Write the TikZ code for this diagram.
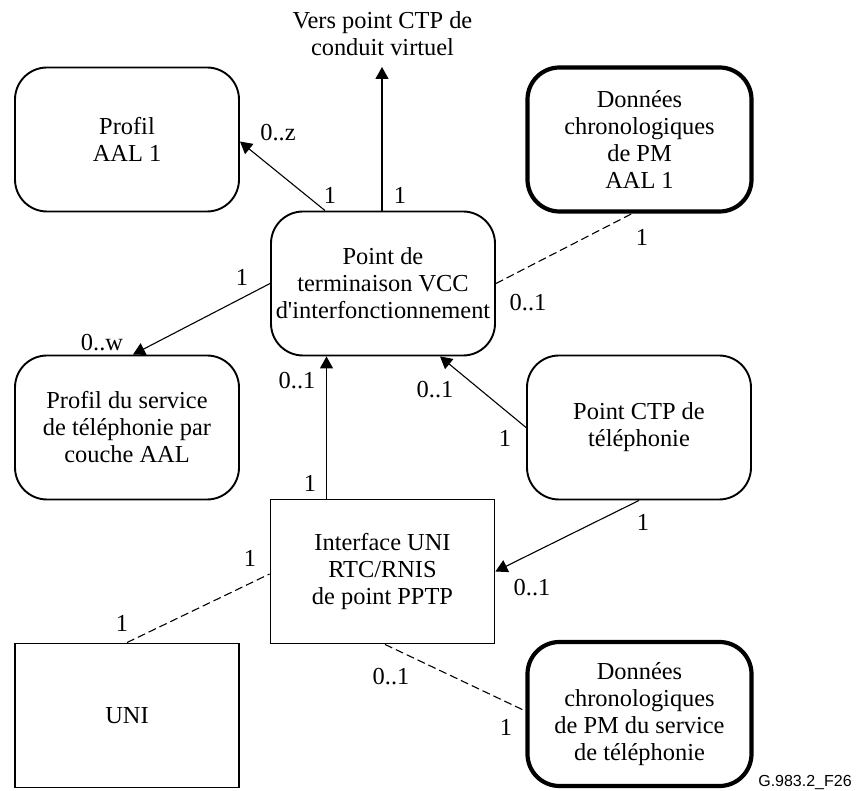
\documentclass[tikz,border=0pt]{standalone}
\usepackage{fontspec}
\newfontfamily\figserif{Liberation Serif}
\newfontfamily\figsans{Liberation Sans}
\usetikzlibrary{arrows.meta,calc}
\begin{document}
\begin{tikzpicture}[x=0.5pt,y=-0.5pt,
  font=\figserif\fontsize{12.2}{13.5}\selectfont,
  obj/.style={draw, line width=0.95pt, minimum width=112pt, minimum height=72pt,
              align=center, inner sep=0pt},
  rbox/.style={obj, rounded corners=16pt},
  pmbox/.style={rbox, line width=2.1pt},
  sbox/.style={obj},
  link/.style={line width=0.55pt},
  arr/.style={link, -{Triangle[length=6pt,width=6.5pt]}},
  dep/.style={link, dash pattern=on 4pt off 2pt},
  lbl/.style={inner sep=0pt}]

\useasboundingbox (0,0) rectangle (859,791);

% managed entities
\node[rbox]  (pa)  at (127,139.5)   {Profil\\AAL 1};
\node[pmbox] (da)  at (639.5,139.5) {Données\\chronologiques\\de PM\\AAL 1};
\node[rbox]  (vcc) at (383,283.5)   {Point de\\terminaison VCC\\d'interfonctionnement};
\node[rbox]  (ps)  at (127,427.5)   {Profil du service\\de téléphonie par\\couche AAL};
\node[rbox]  (ctp) at (639,427.5)   {Point CTP de\\téléphonie};
\node[sbox]  (uif) at (382.5,571.5) {Interface UNI\\RTC/RNIS\\de point PPTP};
\node[sbox]  (uni) at (127,715.5)   {UNI};
\node[pmbox] (ds)  at (639.5,714)   {Données\\chronologiques\\de PM du service\\de téléphonie};

\node[lbl, align=center] (vers) at (382.5,34) {Vers point CTP de\\conduit virtuel};
\coordinate (vtip) at (382,67);

% relationships
\draw[arr] ([xshift=-29pt]vcc.north) -- ([yshift=-1pt]pa.east);
\draw[arr] ([xshift=-0.5pt]vcc.north) -- (vtip);
\draw[arr] (vcc.west) -- ([xshift=3pt]ps.north);
\draw[dep] (vcc.east) -- ([xshift=-3.75pt]da.south);
\draw[arr] ([xshift=-28pt]uif.north) -- ([xshift=-28pt]uif.north |- vcc.south);
\draw[arr] (ctp.west) -- ([xshift=28.5pt]vcc.south);
\draw[arr] (ctp.south) -- (uif.east);
\draw[dep] (uni.north) -- ([yshift=-1.25pt]uif.west);
\draw[dep] ([xshift=1.25pt]uif.south) -- ([yshift=1.5pt]ds.west);

% multiplicities
\node[lbl] (m1)  at (278,133) {0..z};
\node[lbl] (m2)  at (330,195) {1};
\node[lbl] (m3)  at (400,195) {1};
\node[lbl] (m4)  at (242,277) {1};
\node[lbl] (m5)  at (102,343) {0..w};
\node[lbl] (m6)  at (528,303) {0..1};
\node[lbl] (m7)  at (642,237) {1};
\node[lbl] (m8)  at (297,381) {0..1};
\node[lbl] (m9)  at (310,483) {1};
\node[lbl] (m10) at (435,390) {0..1};
\node[lbl] (m11) at (505,438) {1};
\node[lbl] (m12) at (643,522) {1};
\node[lbl] (m13) at (532,588) {0..1};
\node[lbl] (m14) at (250,558) {1};
\node[lbl] (m15) at (122,623) {1};
\node[lbl] (m16) at (391,677) {0..1};
\node[lbl] (m17) at (506,727) {1};

\node[lbl, font=\figsans\fontsize{8}{9.6}\selectfont] (fig) at (805,783) {G.983.2\_F26};
\end{tikzpicture}
\end{document}
